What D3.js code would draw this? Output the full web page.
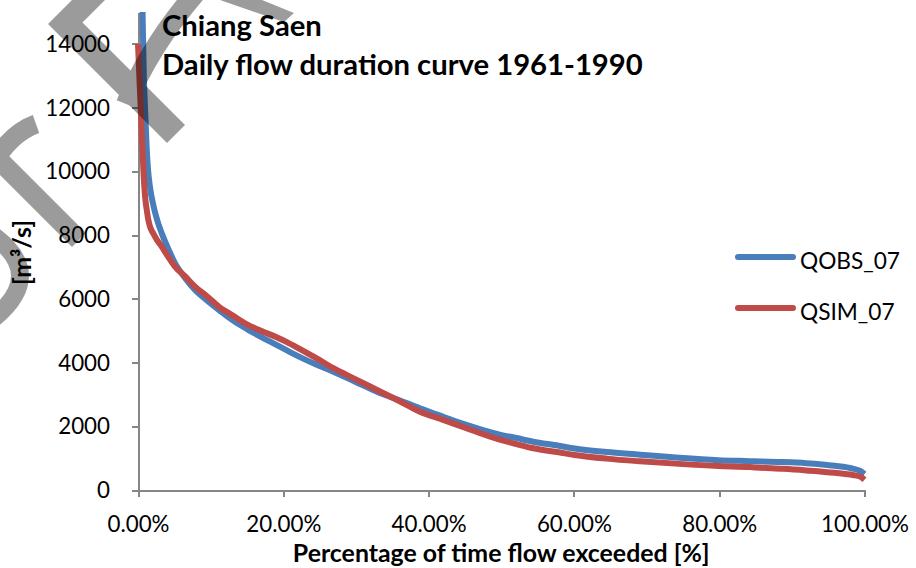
<!DOCTYPE html>
<html>
<head>
<meta charset="utf-8">
<script src="https://cdn.jsdelivr.net/npm/d3@7"></script>
<style>
  html, body { margin: 0; padding: 0; background: #ffffff; }
  svg { display: block; }
</style>
</head>
<body>
<svg id="chart" width="916" height="568"></svg>
<script>
// ---------- data ----------
const chartTitle = ["Chiang Saen", "Daily flow duration curve 1961-1990"];
const xAxisTitle = "Percentage of time flow exceeded [%]";
const yAxisTitle = "[m³/s]";
const seriesNames = ["QOBS_07", "QSIM_07"];

// percentage of time exceeded (%)
const pct = [0, 0.5, 0.8, 1.0, 1.2, 1.4, 1.65, 2.1, 2.6, 3.26, 4.2, 5.09, 6.5, 7.85, 9.5, 11.2, 13.0, 15.0, 17.0, 19.0,
  20.5, 22.3, 24.6, 26.9, 29.9, 32.9, 35.9, 38.8, 42, 45.2, 47.5, 49.8, 52.1, 54.4, 57.9, 60.1, 64.5, 69.1, 74.5,
  79.9, 84.2, 85.6, 88.8, 92, 95.9, 98.4, 99.4, 100];
// observed discharge (m3/s)
const qobs = [24000, 16500, 13000, 11800, 10700, 10000, 9500, 8950, 8500, 8060, 7550, 7118, 6650, 6279, 5950, 5640,
  5330, 5050, 4800, 4560, 4380, 4170, 3930, 3714, 3400, 3086, 2820, 2565, 2300, 2041, 1880, 1740, 1630, 1516, 1391,
  1300, 1190, 1108, 1010, 935, 905, 895, 875, 840, 760, 670, 600, 500];
// simulated discharge (m3/s)
const qsim = [14000, 11300, 9800, 9150, 8800, 8500, 8267, 8050, 7850, 7639, 7300, 7011, 6700, 6383, 6080, 5740,
  5480, 5200, 4990, 4800, 4640, 4420, 4130, 3821, 3480, 3140, 2800, 2459, 2200, 1937, 1750, 1580, 1440, 1309, 1183,
  1100, 985, 900, 820, 755, 720, 700, 665, 615, 540, 470, 420, 320];

const xTicks = [0, 0.2, 0.4, 0.6, 0.8, 1.0];
const yTicks = [0, 2000, 4000, 6000, 8000, 10000, 12000, 14000];
const yMax = 15000;
const colors = ["#4a7ebb", "#be4b48"];

// ---------- layout ----------
const FONT = "Lato, 'Open Sans', sans-serif";
const svg = d3.select("#chart");
const plot = { left: 138, right: 864.5, top: 12, bottom: 490 };

const x = d3.scaleLinear().domain([0, 1]).range([plot.left, plot.right]);
const y = d3.scaleLinear().domain([0, yMax]).range([plot.bottom, plot.top]);

function fitWidth(sel, target) {
  const fs = parseFloat(sel.attr("font-size"));
  const w = sel.node().getComputedTextLength();
  if (w > 0) sel.attr("font-size", fs * target / w);
  return parseFloat(sel.attr("font-size"));
}

svg.append("defs").append("clipPath").attr("id", "plotclip")
  .append("rect")
  .attr("x", plot.left - 10).attr("y", plot.top)
  .attr("width", plot.right - plot.left + 20).attr("height", plot.bottom - plot.top + 10);

// ---------- axes ----------
const axisColor = "#868686";

const yAxis = svg.append("g")
  .attr("transform", `translate(${plot.left},0)`)
  .call(d3.axisLeft(y).tickValues(yTicks).tickFormat(d3.format("d")).tickSize(6).tickSizeOuter(0).tickPadding(22));
yAxis.select(".domain").attr("stroke", axisColor).attr("stroke-width", 2);
yAxis.selectAll(".tick line").attr("stroke", axisColor).attr("stroke-width", 2);
yAxis.selectAll(".tick text")
  .attr("fill", "#000").attr("font-family", FONT).attr("font-size", 22).attr("dy", "0.34em");

const xAxis = svg.append("g")
  .attr("transform", `translate(0,${plot.bottom})`)
  .call(d3.axisBottom(x).tickValues(xTicks).tickFormat(d3.format(".2%")).tickSize(7).tickSizeOuter(0));
xAxis.select(".domain").attr("stroke", axisColor).attr("stroke-width", 2);
xAxis.selectAll(".tick line").attr("stroke", axisColor).attr("stroke-width", 2);
xAxis.selectAll(".tick text")
  .attr("fill", "#000").attr("font-family", FONT).attr("font-size", 22)
  .attr("y", 42).attr("dy", 0);

// font-size calibration for tick labels
{
  const t20 = xAxis.selectAll(".tick text").filter(d => d === 0.2);
  const fs = fitWidth(t20, 75);
  xAxis.selectAll(".tick text").attr("font-size", fs);
  yAxis.selectAll(".tick text").attr("font-size", fs);
}
svg.selectAll(".domain, .tick line").attr("shape-rendering", "crispEdges");

// ---------- series ----------
const line = d3.line()
  .x((d, i) => x(pct[i] / 100))
  .y(d => y(d))
  .curve(d3.curveMonotoneX);

const lines = svg.append("g").attr("clip-path", "url(#plotclip)");
[qobs, qsim].forEach((vals, k) => {
  lines.append("path")
    .datum(vals)
    .attr("d", line)
    .attr("fill", "none")
    .attr("stroke", colors[k])
    .attr("stroke-width", 6)
    .attr("stroke-linejoin", "round")
    .attr("stroke-linecap", "butt");
});

// ---------- legend ----------
const legend = svg.append("g");
const legendY = [257, 308];
let legendFs = 23;
seriesNames.forEach((name, k) => {
  legend.append("line")
    .attr("x1", 738).attr("x2", 793)
    .attr("y1", legendY[k]).attr("y2", legendY[k])
    .attr("stroke", colors[k]).attr("stroke-width", 6).attr("stroke-linecap", "round");
  const t = legend.append("text")
    .attr("x", 800).attr("y", legendY[k] + 11.5)
    .attr("font-family", FONT).attr("font-size", legendFs).attr("fill", "#000")
    .text(name);
  if (k === 0) legendFs = fitWidth(t, 100);
});

// ---------- titles ----------
const t1 = svg.append("text")
  .attr("x", 162).attr("y", 36)
  .attr("font-family", FONT).attr("font-weight", "bold").attr("font-size", 26).attr("fill", "#000")
  .text(chartTitle[0]);
const t2 = svg.append("text")
  .attr("x", 162).attr("y", 74.5)
  .attr("font-family", FONT).attr("font-weight", "bold").attr("font-size", 26).attr("fill", "#000")
  .text(chartTitle[1]);
t1.attr("font-size", fitWidth(t2, 481));

const xt = svg.append("text")
  .attr("x", (plot.left + plot.right) / 2).attr("y", 562)
  .attr("text-anchor", "middle")
  .attr("font-family", FONT).attr("font-weight", "bold").attr("font-size", 21).attr("fill", "#000")
  .text(xAxisTitle);
fitWidth(xt, 417);

const yt = svg.append("text")
  .attr("transform", "translate(31,252.5) rotate(-90)")
  .attr("text-anchor", "middle")
  .attr("font-family", FONT).attr("font-weight", "bold").attr("font-size", 22).attr("fill", "#000")
  .text(yAxisTitle);
fitWidth(yt, 65);

// ---------- watermark (partial, semi-transparent) ----------
const wm = svg.append("g").attr("fill", "#000").attr("stroke", "#000").attr("opacity", 0.39);
wm.append("path").attr("stroke", "none")
  .attr("d", "M48,24 L167,143 L185,125 L82.5,22.5 L105,0 L72,0 Z");
wm.append("path").attr("fill", "none").attr("stroke-width", 20)
  .attr("d", "M126,104 Q150,45 200,-12");
wm.append("path").attr("stroke", "none")
  .attr("d", "M220,0 L284,22 L294,13 L262,0 Z");
wm.append("path").attr("stroke", "none")
  .attr("d", "M-20,155 L72,247 L86,233 L-20,127 Z");
wm.append("path").attr("fill", "none").attr("stroke-width", 19)
  .attr("d", "M-12,172 Q8,134 36,124");
wm.append("path").attr("fill", "none").attr("stroke-width", 18)
  .attr("d", "M-6,236 Q46,275 -6,318");
</script>
</body>
</html>
